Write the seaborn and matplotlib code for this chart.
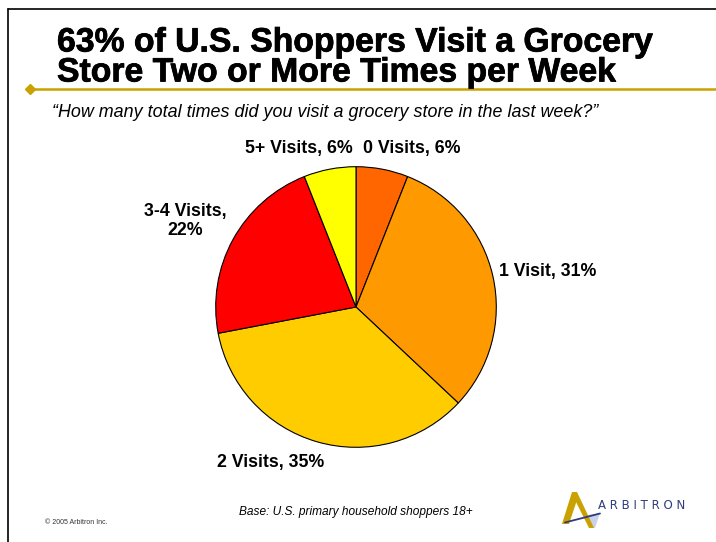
import matplotlib
matplotlib.use("Agg")
import matplotlib.pyplot as plt
from matplotlib.patches import Polygon
from matplotlib.lines import Line2D
import matplotlib.patheffects as pe
import seaborn as sns

# Survey answers: number of grocery store visits in the last week
categories = ["0 Visits", "1 Visit", "2 Visits", "3-4 Visits", "5+ Visits"]
shares = [6, 31, 35, 22, 6]
label_texts = ["0 Visits, 6%", "1 Visit, 31%", "2 Visits, 35%", "3-4 Visits,\n22%", "5+ Visits, 6%"]
slice_colors = ["#FF6600", "#FF9900", "#FFCC00", "#FF0000", "#FFFF00"]

title_lines = ["63% of U.S. Shoppers Visit a Grocery", "Store Two or More Times per Week"]
question = "\u201cHow many total times did you visit a grocery store in the last week?\u201d"
base_note = "Base: U.S. primary household shoppers 18+"
copyright_note = "\u00a9 2005 Arbitron Inc."

sns.set_theme(style="white")
plt.rcParams["font.family"] = ["Liberation Sans", "DejaVu Sans"]
plt.rcParams["text.color"] = "black"

W, H = 716, 542
fig = plt.figure(figsize=(W / 100, H / 100), dpi=100)
fig.patch.set_facecolor("white")


def fx(px):
    return px / W


def fy(py):
    return 1 - py / H


# slide frame (top and left rules)
fig.add_artist(Line2D([fx(8), 1], [fy(9), fy(9)], color="black", lw=1.2))
fig.add_artist(Line2D([fx(8), fx(8)], [fy(9), 0], color="black", lw=1.2))

# title, slightly emboldened with a thin outline
heavy = [pe.withStroke(linewidth=0.55, foreground="black")]
for line, base in zip(title_lines, [51.5, 81.5]):
    fig.text(fx(57), fy(base), line, fontsize=24.3, fontweight="bold",
             ha="left", va="baseline", color="black", path_effects=heavy)

# gold rule with diamond
gold = "#C9A100"
fig.add_artist(Line2D([fx(30), 1], [fy(89), fy(89)], color=gold, lw=1.8))
fig.add_artist(Line2D([fx(30)], [fy(89)], marker="D", markersize=5.5, color=gold))

# question
fig.text(fx(52), fy(117), question, fontsize=12.9, style="italic",
         ha="left", va="baseline", color="black")

# pie
cx, cy, r = 356, 307, 141
ax = fig.add_axes([fx(cx - r), fy(cy + r), 2 * r / W, 2 * r / H])
wedges, _ = ax.pie(shares, colors=slice_colors, startangle=90, counterclock=False,
                   radius=1.0, wedgeprops=dict(edgecolor="black", linewidth=0.8))
ax.set_xlim(-1.005, 1.005)
ax.set_ylim(-1.005, 1.005)
ax.set_axis_off()

# label anchors in pie coordinates (x, y, ha)
anchors = [(0.40, 1.13, "center"), (1.02, 0.25, "left"), (-0.61, -1.11, "center"),
           (-1.22, 0.61, "center"), (-0.41, 1.13, "center")]
for txt, (x, y, ha) in zip(label_texts, anchors):
    ax.text(x, y, txt, fontsize=12.8, fontweight="bold", ha=ha, va="center",
            multialignment="center", linespacing=1.15, clip_on=False, color="black")

# footer
fig.text(fx(356), fy(515), base_note, fontsize=8.6, style="italic",
         ha="center", va="baseline", color="black")
fig.text(fx(45), fy(524), copyright_note, fontsize=5, ha="left", va="baseline",
         color="#333333")

# logo mark: gold "A" with a navy swash and a pale hatched wedge
navy = "#2E3D7C"
tf = fig.transFigure
fig.add_artist(Polygon([(fx(588), fy(515)), (fx(600), fy(513)), (fx(595), fy(528)),
                        (fx(590), fy(527))], closed=True, facecolor="#C9D2EA",
                       edgecolor="none", hatch="....", transform=tf))
fig.add_artist(Polygon([(fx(572), fy(492)), (fx(562), fy(524)), (fx(569), fy(524)),
                        (fx(577), fy(500))], closed=True, facecolor=gold,
                       edgecolor="none", transform=tf))
fig.add_artist(Polygon([(fx(572), fy(492)), (fx(577), fy(492)), (fx(594), fy(528)),
                        (fx(589), fy(528)), (fx(575), fy(500))], closed=True,
                       facecolor=gold, edgecolor="none", transform=tf))
fig.add_artist(Line2D([fx(565), fx(600)], [fy(522.5), fy(513.5)], color=navy, lw=1.3))
fig.text(fx(598), fy(509), "A R B I T R O N", fontsize=8.5, color=navy,
         ha="left", va="baseline", family=["DejaVu Sans"])

fig.savefig("out.png", dpi=100, facecolor="white")
